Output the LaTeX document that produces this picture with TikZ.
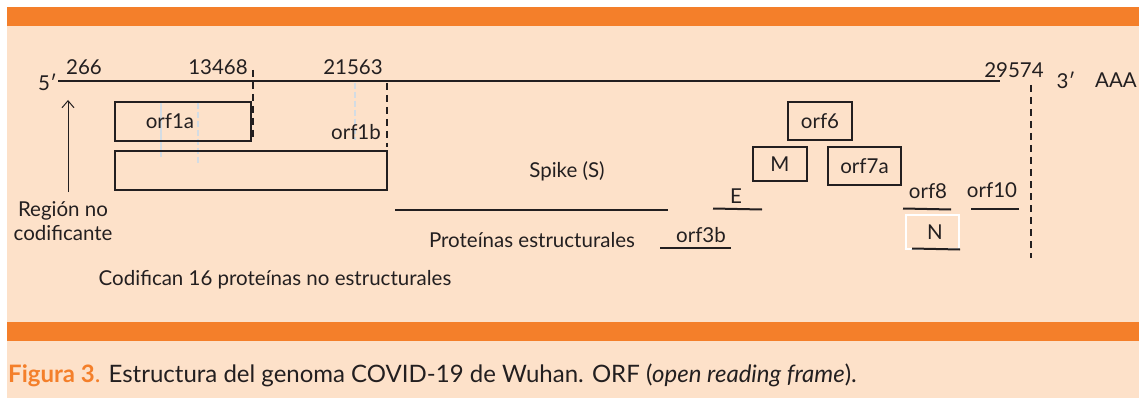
\documentclass[tikz,border=0pt]{standalone}
\usepackage{fontspec}
\setmainfont{Lato}
\usetikzlibrary{arrows.meta}
\definecolor{peach}{HTML}{FDE1C9}
\definecolor{bandorange}{HTML}{F47F2A}
\definecolor{ink}{HTML}{231F20}
\definecolor{faint}{HTML}{D3DCE4}
\begin{document}
\begin{tikzpicture}[x=1pt,y=-1pt,
  txt/.style={inner sep=0pt, text=ink, font=\fontsize{20.5}{24}\selectfont},
  boxr/.style={draw=ink, line width=2pt, inner sep=0pt},
  seg/.style={draw=ink, line width=2pt},
  vdash/.style={draw=ink, line width=2pt, dash pattern=on 7pt off 5pt},
  faintline/.style={draw=faint, line width=1.5pt}]
\useasboundingbox (0,0) rectangle (1139,398);
\fill[white] (0,0) rectangle (1139,398);
\fill[peach] (7,7) rectangle (1139,398);
\fill[bandorange] (7,7) rectangle (1139,26);
\fill[bandorange] (7,322) rectangle (1139,341);

% faint artefact lines
\draw[faintline] (161,103) -- (161,157);
\draw[faintline, dash pattern=on 6pt off 3pt] (198,103) -- (198,163);
\draw[faintline, dash pattern=on 6pt off 3pt] (355,83) -- (355,140);

% genome line
\coordinate (g0) at (58,81);
\coordinate (g1) at (1000,81);
\draw[seg] (g0) -- (g1);
\node[txt, anchor=east] (five) at (57,82) {5′};
\node[txt] (n266) at (84,67) {266};
\node[txt] (n13468) at (218,67) {13468};
\node[txt] (n21563) at (353,67) {21563};
\node[txt] (n29574) at (1014,70) {29574};
\node[txt] (three) at (1066,80) {3′};
\node[txt] (aaa) at (1116,80) {AAA};

% dashed verticals
\coordinate (d1a) at (253,70); \coordinate (d1b) at (253,140);
\coordinate (d2a) at (387,83); \coordinate (d2b) at (387,147);
\coordinate (d3a) at (1031,85); \coordinate (d3b) at (1031,258);
\draw[vdash] (d1a) -- (d1b);
\draw[vdash] (d2a) -- (d2b);
\draw[vdash] (d3a) -- (d3b);

% orf1a / orf1b boxes
\node[boxr, minimum width=136pt, minimum height=39pt] (orf1a) at (183,121.5) {};
\node[txt] (orf1alab) at (170,121) {orf1a};
\node[boxr, minimum width=272pt, minimum height=39pt] (orf1ab) at (251,170.5) {};
\node[txt] (orf1blab) at (356,132) {orf1b};

% non-coding region arrow
\node[txt, align=center] (region) at (63,221) {Región no\\codificante};
\coordinate (arrtip) at (68,100);
\draw[draw=ink, line width=1pt, -{Straight Barb[length=7pt,width=12pt]}] (68,192) -- (arrtip);

% spike
\node[txt] (spike) at (567,171) {Spike (S)};
\coordinate (s0) at (395,210); \coordinate (s1) at (668,210);
\draw[seg] (s0) -- (s1);
\node[txt] (prot) at (532,240) {Proteínas estructurales};

% orf3b
\coordinate (o3a) at (660,248); \coordinate (o3b) at (731,248);
\draw[seg] (o3a) -- (o3b);
\node[txt] (orf3b) at (701,235) {orf3b};

% E
\coordinate (ea) at (713,208.5); \coordinate (eb) at (762,209.5);
\draw[seg] (ea) -- (eb);
\node[txt] (E) at (736,196) {E};

% M, orf6, orf7a
\node[boxr, minimum width=54pt, minimum height=34pt, txt] (M) at (780,164) {M};
\node[boxr, minimum width=64pt, minimum height=38pt, txt] (orf6) at (820,121) {orf6};
\node[boxr, minimum width=73pt, minimum height=38pt, txt] (orf7a) at (864.5,166) {orf7a};

% orf8, orf10
\coordinate (o8a) at (903,208.5); \coordinate (o8b) at (951,209.5);
\draw[seg] (o8a) -- (o8b);
\node[txt] (orf8) at (928,191) {orf8};
\coordinate (o10a) at (971,209); \coordinate (o10b) at (1019,209);
\draw[seg] (o10a) -- (o10b);
\node[txt] (orf10) at (992,190) {orf10};

% N
\node[draw=white, line width=2pt, minimum width=53pt, minimum height=34pt, inner sep=0pt] (Nbox) at (932.5,232) {};
\node[txt] (N) at (935,232) {N};
\coordinate (na) at (912,248.5); \coordinate (nb) at (960,249.5);
\draw[seg] (na) -- (nb);

% bottom note
\node[txt] (cod) at (275,280) {Codifican 16 proteínas no estructurales};

% caption
\node[inner sep=0pt, anchor=west, text=ink, font=\fontsize{24}{28}\selectfont] (cap) at (8,375)
  {\textcolor{bandorange}{\bfseries Figura 3}\textcolor{bandorange}{.} Estructura del genoma COVID-19 de Wuhan. ORF (\textit{open reading frame}).};
\end{tikzpicture}
\end{document}
